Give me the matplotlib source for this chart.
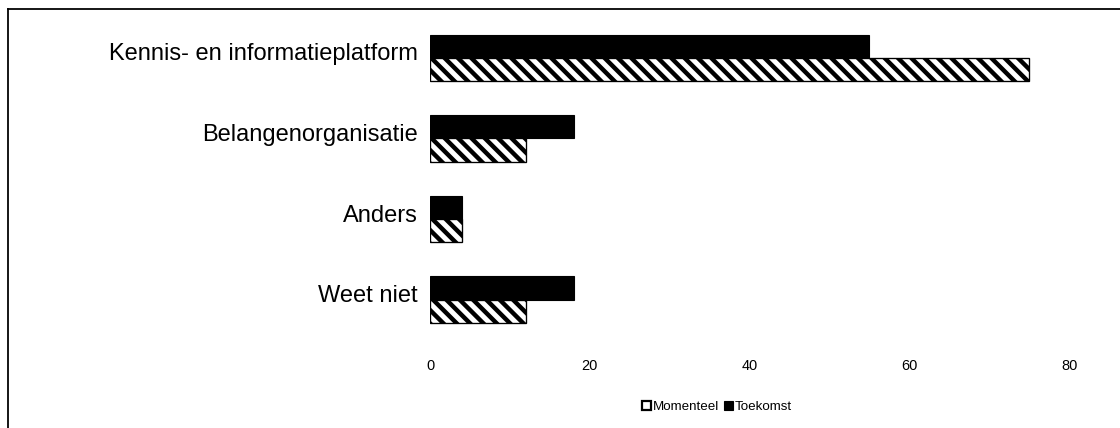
import matplotlib
matplotlib.use("Agg")
import matplotlib.pyplot as plt
import matplotlib.transforms as mtransforms
from matplotlib.patches import Patch
from matplotlib.lines import Line2D
import numpy as np

categories = ["Kennis- en informatieplatform", "Belangenorganisatie", "Anders", "Weet niet"]
momenteel = [75, 12, 4, 12]
toekomst = [55, 18, 4, 18]
xticks = [0, 20, 40, 60, 80]

DPI = 80
W, H = 1120, 428
plt.rcParams['font.family'] = ['Liberation Sans', 'DejaVu Sans']
plt.rcParams['hatch.linewidth'] = 4.0
plt.rcParams['hatch.color'] = 'black'

fig = plt.figure(figsize=(W / DPI, H / DPI), dpi=DPI)

# axes in pixel coords
left, right = 430, 1069
top, bottom = 20, 340
ax = fig.add_axes([left / W, 1 - bottom / H, (right - left) / W, (bottom - top) / H])

y = np.arange(len(categories))
h = 0.29
ax.barh(y - h / 2, toekomst, height=h, color='black', edgecolor='black', linewidth=1)
ax.barh(y + h / 2, momenteel, height=h, color='white', edgecolor='black', hatch='\\\\', linewidth=1.2)

ax.set_xlim(0, 80)
ax.set_ylim(3.5, -0.47)
ax.set_yticks(y)
ax.set_yticklabels(categories, fontsize=21.3)
ax.set_xticks(xticks)
ax.set_xticklabels([str(v) for v in xticks], fontsize=13)
ax.tick_params(axis='both', length=0)
ax.tick_params(axis='y', pad=11)
ax.tick_params(axis='x', pad=17)
for s in ax.spines.values():
    s.set_visible(False)

offset = mtransforms.ScaledTranslation(0, 6 / DPI, fig.dpi_scale_trans)
for lbl in ax.get_yticklabels():
    lbl.set_transform(lbl.get_transform() + offset)

handles = [Patch(facecolor='white', edgecolor='black', linewidth=2.0),
           Patch(facecolor='black', edgecolor='black')]
fig.legend(handles, ["Momenteel", "Toekomst"], loc='center', bbox_to_anchor=(717 / W, 1 - 407 / H),
           ncol=2, frameon=False, fontsize=12, handlelength=0.7, handleheight=0.7,
           handletextpad=0.15, columnspacing=0.3)

# partial figure border (left and top)
fig.add_artist(Line2D([7.5 / W, 7.5 / W], [0, 1 - 8.5 / H], color='black', linewidth=1.6, transform=fig.transFigure))
fig.add_artist(Line2D([7.5 / W, 1], [1 - 8.5 / H, 1 - 8.5 / H], color='black', linewidth=1.6, transform=fig.transFigure))

fig.savefig("out.png", dpi=DPI)
